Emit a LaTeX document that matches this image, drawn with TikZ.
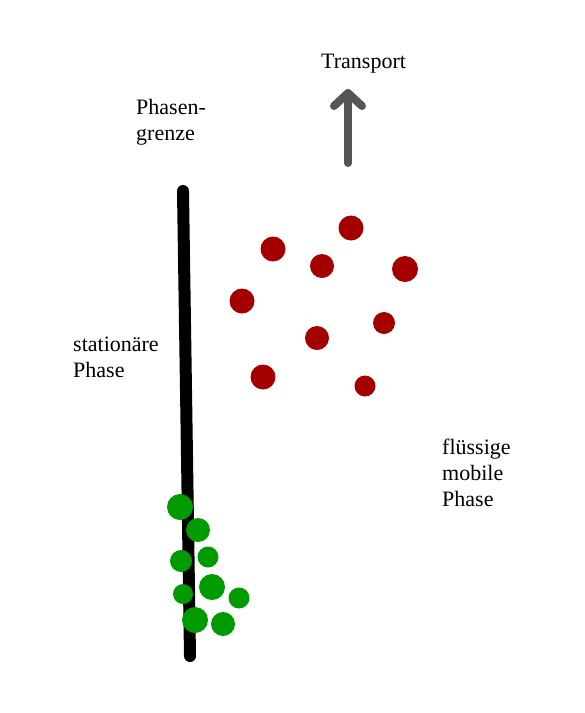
\documentclass[tikz,border=0pt]{standalone}
\usepackage{fontspec}
\setmainfont{Liberation Serif}
\usetikzlibrary{calc}
\definecolor{dotred}{RGB}{165,0,0}
\definecolor{dotgreen}{RGB}{0,155,0}
\definecolor{arrowgray}{RGB}{85,85,85}
\begin{document}
\begin{tikzpicture}[x=1pt,y=-1pt,
  lbl/.style={font=\fontsize{22}{26}\selectfont, align=left, anchor=west, inner sep=0pt},
  reddot/.style={circle, fill=dotred, draw=none, inner sep=0pt, minimum size=#1},
  greendot/.style={circle, fill=dotgreen, draw=none, inner sep=0pt, minimum size=#1},
  boundary/.style={line width=12pt, line cap=round, black},
  transport/.style={line width=8pt, line cap=round, line join=round, arrowgray}]
\useasboundingbox (0,0) rectangle (585,713);
% phase boundary
\coordinate (btop) at (183,191);
\coordinate (bbot) at (190,656);
\draw[boundary] (btop) -- (bbot);
% transport arrow
\coordinate (tbot) at (348,163);
\coordinate (ttop) at (348,93);
\draw[transport] (tbot) -- (ttop);
\draw[transport] ($(ttop)+(-14,13)$) -- (ttop) -- ($(ttop)+(14,13)$);
% labels
\node[lbl] (ltrans) at (321,64) {Transport};
\node[lbl] (lgrenze) at (136,122) {Phasen-\\grenze};
\node[lbl] (lstat) at (73,357) {stationäre\\Phase};
\node[lbl] (lmob) at (442,473) {flüssige\\mobile\\Phase};
% red dots (mobile phase)
\node[reddot=25pt] (r1) at (351,228) {};
\node[reddot=25pt] (r2) at (273,249) {};
\node[reddot=24pt] (r3) at (322,266) {};
\node[reddot=26pt] (r4) at (405,269) {};
\node[reddot=25pt] (r5) at (242,301) {};
\node[reddot=22pt] (r6) at (384,323) {};
\node[reddot=24pt] (r7) at (317,338) {};
\node[reddot=25pt] (r8) at (263,377) {};
\node[reddot=21pt] (r9) at (365,386) {};
% green dots (stationary phase)
\node[greendot=26pt] (g1) at (180,507) {};
\node[greendot=24pt] (g2) at (198,530) {};
\node[greendot=22pt] (g3) at (181,561) {};
\node[greendot=21pt] (g4) at (208,557) {};
\node[greendot=20pt] (g5) at (183,594) {};
\node[greendot=26pt] (g6) at (212,587) {};
\node[greendot=21pt] (g7) at (239,598) {};
\node[greendot=26pt] (g8) at (195,620) {};
\node[greendot=24pt] (g9) at (223,624) {};
\end{tikzpicture}
\end{document}
